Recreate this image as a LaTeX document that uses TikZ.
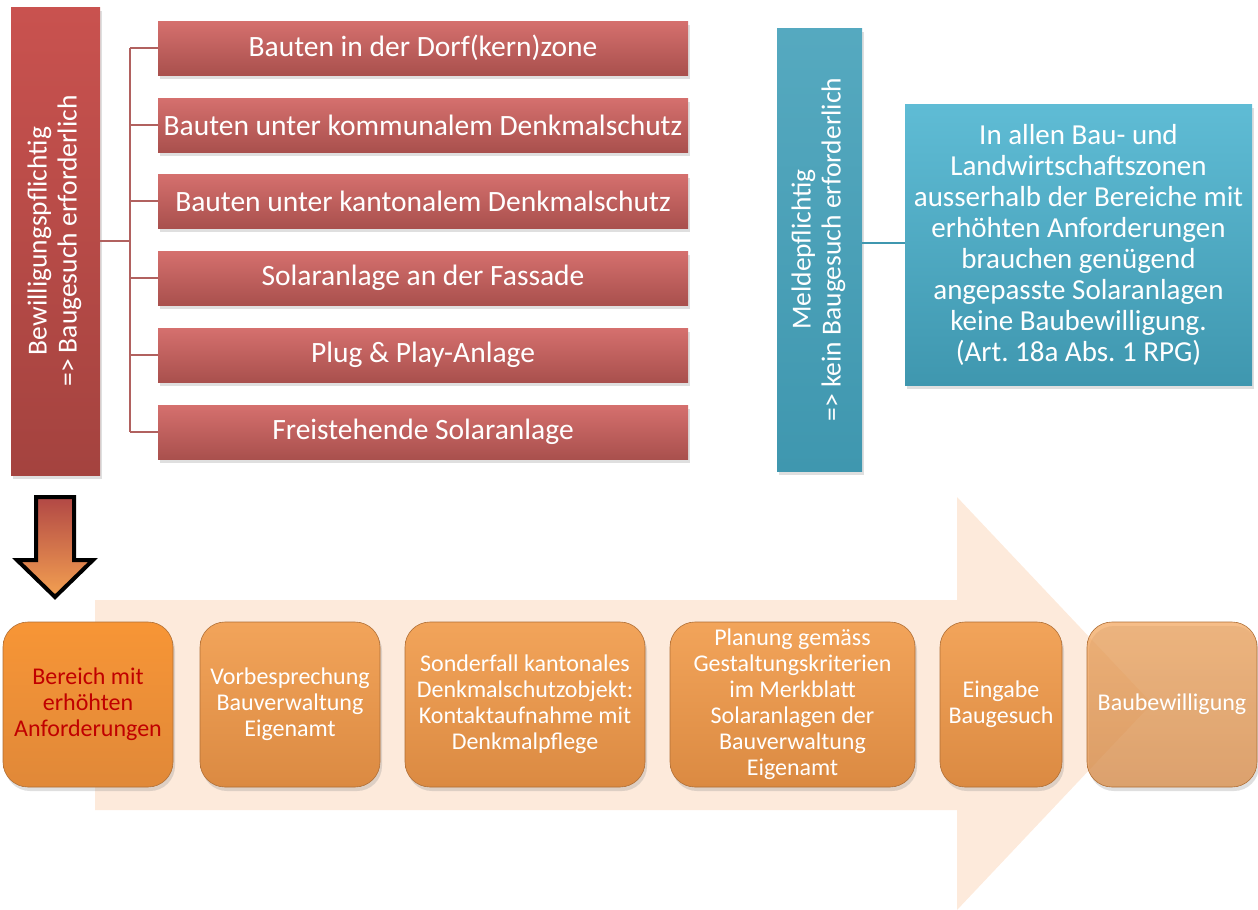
\documentclass[tikz,border=0pt]{standalone}
\usepackage{fontspec}
\setmainfont{Carlito}
\usepackage{graphicx}
\usetikzlibrary{shadows}
\frenchspacing
\definecolor{redtop}{HTML}{D5706E}
\definecolor{redbot}{HTML}{A9504D}
\definecolor{coltop}{HTML}{C9524F}
\definecolor{colbot}{HTML}{A4433F}
\definecolor{bluetop}{HTML}{5FBCD5}
\definecolor{bluebot}{HTML}{3F97AF}
\definecolor{orgtop}{HTML}{F2A45A}
\definecolor{orgbot}{HTML}{DB8A42}
\definecolor{peach}{HTML}{FDEADB}
\definecolor{darkred}{HTML}{C00000}
\colorlet{mred}{redbot!90!white}
\tikzset{
  shade/.style = {drop shadow={opacity=0.25, shadow xshift=2pt, shadow yshift=-4pt}},
  colbox/.style = {rectangle, inner sep=0, text=white, shade, font=\fontsize{27.5}{30}\selectfont},
  redbox/.style = {rectangle, inner sep=0, text=white, shade, top color=redtop, bottom color=redbot,
    minimum width=530pt, minimum height=54pt, font=\fontsize{29.5}{34}\selectfont},
  stepbox/.style = {rectangle, rounded corners=25pt, inner sep=0, align=center, text=white,
    top color=orgtop, bottom color=orgbot, draw=orgbot!80!black, line width=0.6pt, shade,
    minimum height=165pt, font=\fontsize{24}{26}\selectfont},
  bracket/.style = {mred, line width=1.2pt},
  blueline/.style = {bluebot, line width=1.2pt}
}

\begin{document}
\begin{tikzpicture}[x=1pt, y=-1pt]
    \useasboundingbox (0,0) rectangle (1258,910);

    \node [colbox, top color=coltop, bottom color=colbot, minimum width=89pt, minimum height=468pt]
      (bew) at (55.5,241) {\rotatebox{90}{\begin{tabular}{@{}c@{}}Bewilligungspflichtig\\=> Baugesuch erforderlich\end{tabular}}};

    \node [redbox] (r1) at (423,48) {Bauten in der Dorf(kern)zone};
    \node [redbox] (r2) at (423,125) {Bauten unter kommunalem Denkmalschutz};
    \node [redbox] (r3) at (423,201) {Bauten unter kantonalem Denkmalschutz};
    \node [redbox] (r4) at (423,278) {Solaranlage an der Fassade};
    \node [redbox] (r5) at (423,355) {Plug \& Play-Anlage};
    \node [redbox] (r6) at (423,432) {Freistehende Solaranlage};

    \coordinate (split) at (130,241);
    \draw [bracket] (bew.east) -- (split);
    \draw [bracket] (split |- r1.west) -- (split |- r6.west);
    \foreach \i in {1,...,6}
      \draw [bracket] (split |- r\i.west) -- (r\i.west);

    \node [colbox, top color=bluetop!90!black, bottom color=bluebot, minimum width=85pt, minimum height=443pt]
      (meld) at (819.5,249.5) {\rotatebox{90}{\begin{tabular}{@{}c@{}}Meldepflichtig\\=> kein Baugesuch erforderlich\end{tabular}}};
    \node [colbox, top color=bluetop, bottom color=bluebot, minimum width=347pt, minimum height=281pt,
      align=center, font=\fontsize{29}{31}\selectfont]
      (info) at (1078.5,244.5) {In allen Bau- und\\Landwirtschaftszonen\\ausserhalb der Bereiche mit\\erhöhten Anforderungen\\brauchen genügend\\angepasste Solaranlagen\\keine Baubewilligung.\\(Art. 18a Abs. 1 RPG)};
    \draw [blueline] (meld.east |- 0,243) -- (info.west |- 0,243);

    \fill [peach] (95,600) -- (957,600) -- (957,497) -- (1152,703.5) -- (957,910) -- (957,810) -- (95,810) -- cycle;

    \draw [line width=4pt, line join=miter, top color=redbot!90!red, bottom color=orgtop!90!orange]
      (36,497) -- (74,497) -- (74,560) -- (93,560) -- (55,597) -- (17,560) -- (36,560) -- cycle;

    \node [stepbox, minimum width=170pt, top color=orgtop!60!orange, bottom color=orgbot!85!orange, text=darkred]
      (s1) at (88,704.5) {Bereich mit\\erhöhten\\Anforderungen};
    \node [stepbox, minimum width=180pt] (s2) at (290,704.5) {Vorbesprechung\\Bauverwaltung\\Eigenamt};
    \node [stepbox, minimum width=240pt] (s3) at (525,704.5) {Sonderfall kantonales\\Denkmalschutzobjekt:\\Kontaktaufnahme mit\\Denkmalpflege};
    \node [stepbox, minimum width=245pt] (s4) at (792.5,704.5) {Planung gemäss\\Gestaltungskriterien\\im Merkblatt\\Solaranlagen der\\Bauverwaltung\\Eigenamt};
    \node [stepbox, minimum width=122pt] (s5) at (1001,704.5) {Eingabe\\Baugesuch};
    \node [stepbox, minimum width=170pt, fill opacity=0.72, text opacity=1] (s6) at (1172,704.5) {Baubewilligung};
\end{tikzpicture}
\end{document}
